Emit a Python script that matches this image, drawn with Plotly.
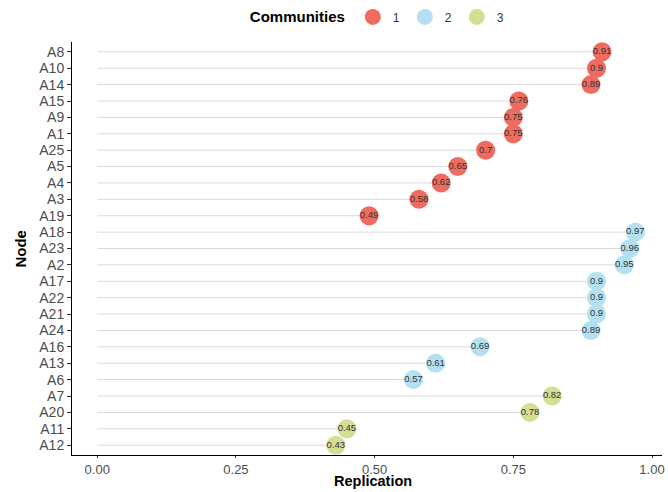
import plotly.graph_objects as go

nodes = ["A8", "A10", "A14", "A15", "A9", "A1", "A25", "A5", "A4", "A3", "A19",
         "A18", "A23", "A2", "A17", "A22", "A21", "A24", "A16", "A13", "A6",
         "A7", "A20", "A11", "A12"]
replication = [0.91, 0.90, 0.89, 0.76, 0.75, 0.75, 0.70, 0.65, 0.62, 0.58, 0.49,
               0.97, 0.96, 0.95, 0.90, 0.90, 0.90, 0.89, 0.69, 0.61, 0.57,
               0.82, 0.78, 0.45, 0.43]
community = [1] * 11 + [2] * 10 + [3] * 4
community_names = ["1", "2", "3"]
colors = {1: "#EE6B5F", 2: "#B3E1F2", 3: "#D4DE94"}
x_ticks = [0, 0.25, 0.5, 0.75, 1.0]
x_ticklabels = ["0.00", "0.25", "0.50", "0.75", "1.00"]

fig = go.Figure()

# segments from 0 to value
seg_x, seg_y = [], []
for n, v in zip(nodes, replication):
    seg_x += [0, v, None]
    seg_y += [n, n, None]
fig.add_trace(go.Scatter(x=seg_x, y=seg_y, mode="lines",
                         line=dict(color="#DADADA", width=1),
                         showlegend=False, hoverinfo="skip"))

for c in [1, 2, 3]:
    xs = [v for v, k in zip(replication, community) if k == c]
    ys = [n for n, k in zip(nodes, community) if k == c]
    txt = [f"{v:g}" for v in xs]
    fig.add_trace(go.Scatter(
        x=xs, y=ys, mode="markers+text", name=community_names[c - 1],
        text=txt, textposition="middle center",
        textfont=dict(size=9.5, color="#333333", family="Liberation Sans, Arial"),
        marker=dict(size=19, color=colors[c], line=dict(width=0)),
    ))

fig.update_layout(
    width=668, height=492,
    margin=dict(l=72, r=6, t=42, b=37),
    plot_bgcolor="white", paper_bgcolor="white",
    font=dict(family="Liberation Sans, Arial", color="#333333"),
    legend=dict(orientation="h", x=0.52, xanchor="center", y=0.995, yanchor="top",
                yref="container",
                title=dict(text="<b>Communities</b>", font=dict(size=15, color="#000000"), side="left"),
                font=dict(size=12, color="#333333"), itemsizing="trace",
                itemwidth=30, traceorder="normal"),
    xaxis=dict(range=[-0.0455, 1.018], tickmode="array", tickvals=x_ticks,
               ticktext=x_ticklabels,
               showgrid=False, zeroline=False, showline=True, linecolor="#000000", linewidth=1,
               ticks="outside", ticklen=2, tickcolor="#333333", automargin=False,
               tickfont=dict(size=13, color="#4D4D4D")),
    yaxis=dict(type="category", categoryorder="array", categoryarray=nodes,
               tickmode="array", tickvals=nodes, ticktext=nodes,
               range=[len(nodes) - 0.4, -0.6], automargin=False,
               showgrid=False, zeroline=False, showline=True, linecolor="#000000", linewidth=1,
               ticks="outside", ticklen=4, tickcolor="#333333",
               tickfont=dict(size=14, color="#4D4D4D")),
    annotations=[
        dict(text="<b>Replication</b>", xref="paper", yref="paper", x=0.51, y=-0.088,
             xanchor="center", yanchor="bottom", showarrow=False,
             font=dict(size=14.5, color="#000000")),
        dict(text="<b>Node</b>", xref="paper", yref="paper", x=-0.088, y=0.5,
             xanchor="center", yanchor="middle", showarrow=False, textangle=-90,
             font=dict(size=15, color="#000000")),
    ],
)

fig.write_html("out.html", config={"displayModeBar": False},
               post_script="document.body.style.margin='0';")
